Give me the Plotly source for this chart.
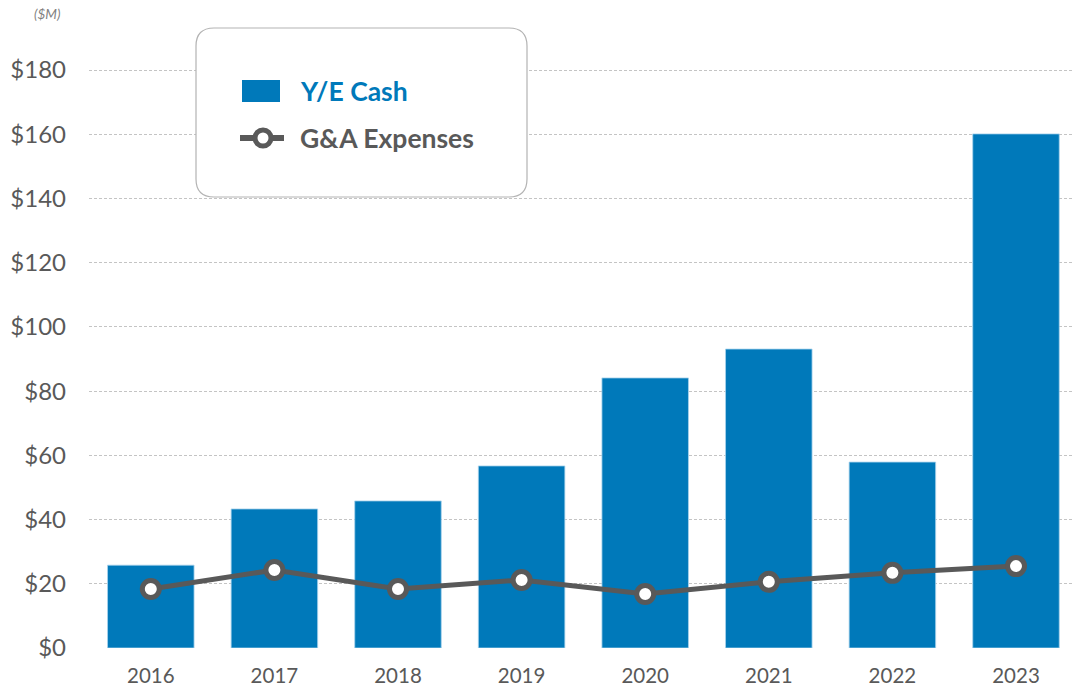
import plotly.graph_objects as go

years = ["2016", "2017", "2018", "2019", "2020", "2021", "2022", "2023"]
ye_cash = [25.8, 43.3, 45.8, 56.7, 84.1, 93.1, 57.9, 160.1]
ga_expenses = [18.4, 24.3, 18.4, 21.2, 16.8, 20.6, 23.4, 25.5]
y_ticks = [0, 20, 40, 60, 80, 100, 120, 140, 160, 180]
y_tick_labels = ["$" + str(v) for v in y_ticks]

BLUE = "#0079BA"
GREY = "#595959"
FONT = "Lato"

W, H = 1072, 688
ML, MR, MT, MB = 89, 0, 22, 40
PW, PH = W - ML - MR, H - MT - MB

def px(x):
    return (x - ML) / PW

def py(y):
    return (H - MB - y) / PH

fig = go.Figure()
fig.add_trace(go.Bar(
    x=list(range(len(years))), y=ye_cash, name="Y/E Cash",
    marker=dict(color=BLUE, line=dict(color="#a8d3ec", width=0.8)),
    showlegend=False,
))
fig.add_trace(go.Scatter(
    x=list(range(len(years))), y=ga_expenses, name="G&A Expenses",
    mode="lines+markers",
    line=dict(color=GREY, width=5),
    marker=dict(size=17, color="white", line=dict(color=GREY, width=5)),
    showlegend=False,
))

# rounded legend box
x0, x1, y0, y1, r = 196, 527, 28, 197, 18
path = (
    f"M {px(x0 + r)},{py(y0)} L {px(x1 - r)},{py(y0)} "
    f"Q {px(x1)},{py(y0)} {px(x1)},{py(y0 + r)} "
    f"L {px(x1)},{py(y1 - r)} Q {px(x1)},{py(y1)} {px(x1 - r)},{py(y1)} "
    f"L {px(x0 + r)},{py(y1)} Q {px(x0)},{py(y1)} {px(x0)},{py(y1 - r)} "
    f"L {px(x0)},{py(y0 + r)} Q {px(x0)},{py(y0)} {px(x0 + r)},{py(y0)} Z"
)
shapes = [
    dict(type="path", xref="paper", yref="paper", path=path,
         fillcolor="white", line=dict(color="#b3b3b3", width=1.2), layer="above"),
    dict(type="rect", xref="paper", yref="paper",
         x0=px(242), x1=px(280), y0=py(102), y1=py(80),
         fillcolor=BLUE, line=dict(width=0), layer="above"),
    dict(type="line", xref="paper", yref="paper",
         x0=px(240), x1=px(284), y0=py(138), y1=py(138),
         line=dict(color=GREY, width=6), layer="above"),
    dict(type="circle", xref="paper", yref="paper",
         x0=px(255), x1=px(271), y0=py(146), y1=py(130),
         fillcolor="white", line=dict(color=GREY, width=5), layer="above"),
]

annotations = [
    dict(text="<b>Y/E Cash</b>", x=px(298), y=py(91), xref="paper", yref="paper",
         xanchor="left", yanchor="middle", showarrow=False,
         font=dict(family=FONT, size=26.5, color=BLUE)),
    dict(text="<b>G&A Expenses</b>", x=px(298), y=py(138), xref="paper", yref="paper",
         xanchor="left", yanchor="middle", showarrow=False,
         font=dict(family=FONT, size=26.5, color=GREY)),
    dict(text="<i>($M)</i>", x=px(47), y=py(14), xref="paper", yref="paper",
         xanchor="center", yanchor="middle", showarrow=False,
         font=dict(family=FONT, size=13.5, color="#7f7f7f")),
]

fig.update_layout(
    width=W, height=H,
    margin=dict(l=ML, r=MR, t=MT, b=MB),
    paper_bgcolor="white", plot_bgcolor="white",
    bargap=0.3,
    font=dict(family=FONT, color=GREY),
    shapes=shapes,
    annotations=annotations,
    showlegend=False,
)
fig.update_xaxes(
    range=[-0.5, PW / 123.6 - 0.5],
    tickmode="array", tickvals=list(range(len(years))), ticktext=years,
    tickfont=dict(family=FONT, size=20.5, color=GREY),
    showgrid=False, zeroline=False, showline=False, ticks="",
    ticklabelstandoff=13, automargin=False,
)
fig.update_yaxes(
    range=[0, PH / 3.211],
    tickmode="array", tickvals=y_ticks, ticktext=y_tick_labels,
    tickfont=dict(family=FONT, size=24, color=GREY),
    showgrid=True, gridcolor="#c4c4c4", gridwidth=1, griddash="3px,2px",
    zeroline=False, showline=False, ticks="",
    ticklabelstandoff=22, automargin=False,
)

fig.write_html("out.html", config={"displayModeBar": False},
               post_script="document.body.style.margin='0';")
